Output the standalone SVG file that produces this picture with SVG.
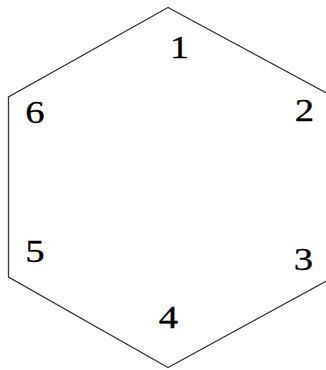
<svg xmlns="http://www.w3.org/2000/svg" width="326" height="370" viewBox="0 0 326 370">
<style>
.edge{fill:none;stroke:#3a3a3a;stroke-width:1.3;stroke-linejoin:miter}
.lbl{font-family:"Liberation Serif","Times New Roman",serif;font-size:31px;fill:#000;stroke:#000;stroke-width:0.3;text-anchor:middle}
</style>
<rect width="326" height="370" fill="#fff"/>
<g id="connectors">
<polygon class="edge" points="168,7.5 8.5,97 8.5,277 168,367.5 330,279 330,95"/>
</g>
<g id="node1"><text class="lbl" transform="translate(179.5,57.5) scale(1.25,1)">1</text></g>
<g id="node2"><text class="lbl" transform="translate(304.5,121) scale(1.25,1)">2</text></g>
<g id="node3"><text class="lbl" transform="translate(303.5,269.5) scale(1.25,1)">3</text></g>
<g id="node4"><text class="lbl" transform="translate(168.5,327.5) scale(1.25,1)">4</text></g>
<g id="node5"><text class="lbl" transform="translate(35,262) scale(1.25,1)">5</text></g>
<g id="node6"><text class="lbl" transform="translate(35,122.5) scale(1.25,1)">6</text></g>
</svg>
